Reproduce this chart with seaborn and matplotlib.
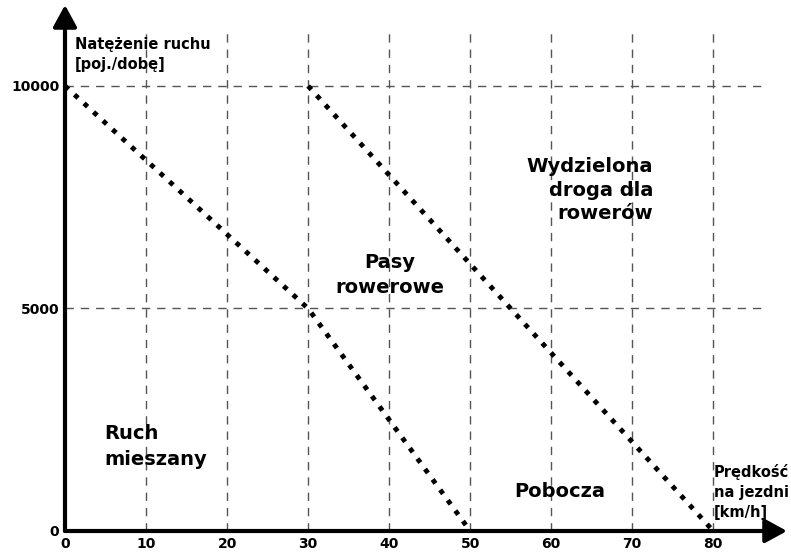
import numpy as np
import matplotlib
matplotlib.use('Agg')
import matplotlib.pyplot as plt
import seaborn as sns
import pandas as pd

# data
x_ticks = [0, 10, 20, 30, 40, 50, 60, 70, 80]
y_ticks = [0, 5000, 10000]
line1_speed = [0, 30, 50]
line1_traffic = [10000, 5000, 0]
line2_speed = [30, 80]
line2_traffic = [10000, 0]

sns.set_style('white')
plt.rcParams['font.family'] = ['DejaVu Sans']
plt.rcParams['text.color'] = 'black'
plt.rcParams['xtick.color'] = 'black'
plt.rcParams['ytick.color'] = 'black'

fig = plt.figure(figsize=(7.91, 5.53), dpi=100)
ax = fig.add_axes([65/791, 22/553, (787-65)/791, (531-5)/553])
xmax, ymax = 89.1, 11820
ax.set_xlim(0, xmax)
ax.set_ylim(0, ymax)
for s in ax.spines.values():
    s.set_visible(False)

# grid
for x in x_ticks[1:]:
    ax.plot([x, x], [0, 11330], color='#555555', lw=1, ls=(0, (6, 5)), zorder=1)
for y in y_ticks[1:]:
    ax.plot([0, 86.4], [y, y], color='#555555', lw=1, ls=(0, (6, 5)), zorder=1)

# borders between zones
df1 = pd.DataFrame({'speed': line1_speed, 'traffic': line1_traffic})
df2 = pd.DataFrame({'speed': line2_speed, 'traffic': line2_traffic})
sns.lineplot(data=df1, x='speed', y='traffic', ax=ax, color='black', lw=3.5,
             ls=':', sort=False, zorder=3)
sns.lineplot(data=df2, x='speed', y='traffic', ax=ax, color='black', lw=3.5,
             ls=':', sort=False, zorder=3)

# axes with arrows
arrow = dict(arrowstyle='-|>,head_length=1.1,head_width=0.6', lw=3,
             color='black', shrinkA=0, shrinkB=0, mutation_scale=12)
ax.annotate('', xy=(xmax, 0), xytext=(0, 0), annotation_clip=False,
            arrowprops=arrow, zorder=4)
ax.annotate('', xy=(0, ymax), xytext=(0, 0), annotation_clip=False,
            arrowprops=arrow, zorder=4)

ax.set_xticks(x_ticks)
ax.set_yticks(y_ticks)
ax.set_xticklabels([str(v) for v in x_ticks], fontweight='bold', fontsize=10)
ax.set_yticklabels([str(v) for v in y_ticks], fontweight='bold', fontsize=10)
ax.tick_params(length=0, pad=4)
ax.set_xlabel('')
ax.set_ylabel('')

# labels
ax.text(1.2, 11100, 'Natężenie ruchu\n[poj./dobę]', fontsize=10.5, fontweight='bold',
        va='top', ha='left', linespacing=1.4)
ax.text(80.1, 1500, 'Prędkość\nna jezdni\n[km/h]', fontsize=10.5, fontweight='bold',
        va='top', ha='left', linespacing=1.4)
ax.text(4.9, 1900, 'Ruch\nmieszany', fontsize=14, fontweight='bold',
        va='center', ha='left', linespacing=1.5)
ax.text(40.1, 5750, 'Pasy\nrowerowe', fontsize=14, fontweight='bold',
        va='center', ha='center', linespacing=1.4)
ax.text(72.6, 7660, 'Wydzielona\ndroga dla\nrowerów', fontsize=14, fontweight='bold',
        va='center', ha='right', linespacing=1.3)
ax.text(61.1, 880, 'Pobocza', fontsize=14, fontweight='bold',
        va='center', ha='center')

plt.savefig('out.png', dpi=100)
